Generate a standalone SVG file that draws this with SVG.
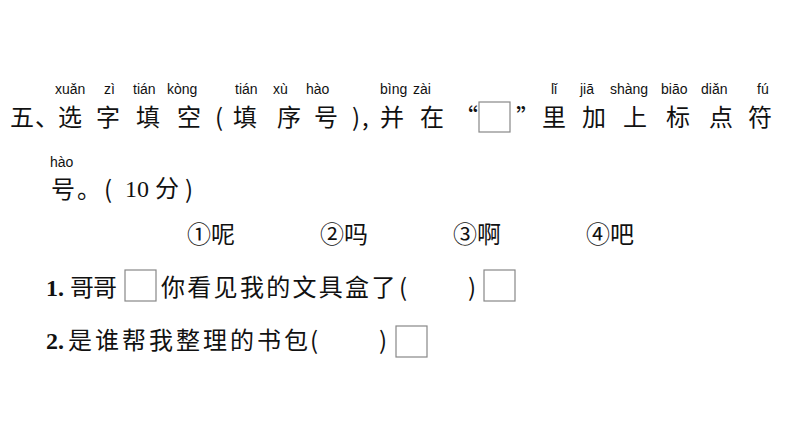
<svg xmlns="http://www.w3.org/2000/svg" width="794" height="447" viewBox="0 0 794 447">
<style>
.c{font-family:"Noto Sans CJK SC","Noto Sans",sans-serif;font-size:24px;fill:#111}
.p{font-family:"Liberation Sans",sans-serif;font-size:14px;fill:#111}
.s{font-family:"Liberation Serif","Noto Sans CJK SC",serif;font-size:24px;fill:#111}
.b{fill:#fff;stroke:#888;stroke-width:1.2}
</style>
<rect width="794" height="447" fill="#fff"/>
<g class="p">
<text x="55" y="94">xuǎn</text><text x="104" y="94">zì</text><text x="133" y="94">tián</text><text x="167" y="94">kòng</text>
<text x="235" y="94">tián</text><text x="273" y="94">xù</text><text x="306" y="94">hào</text>
<text x="380" y="94">bìng</text><text x="413" y="94">zài</text>
<text x="551" y="94">lǐ</text><text x="580" y="94">jiā</text><text x="610" y="94">shàng</text><text x="661" y="94">biāo</text><text x="701" y="94">diǎn</text><text x="757" y="94">fú</text>
<text x="50" y="167">hào</text>
</g>
<g class="c">
<text x="10" y="126">五</text><text x="35" y="126">、</text><text x="58" y="126">选</text><text x="96" y="126">字</text><text x="136" y="126">填</text><text x="177" y="126">空</text>
<text x="215" y="126">(</text><text x="233" y="126">填</text><text x="277" y="126">序</text><text x="314" y="126">号</text><text x="352" y="126">)</text><text x="362" y="126">,</text>
<text x="380" y="126">并</text><text x="420" y="126">在</text><text x="454" y="126">“</text><text x="516" y="126">”</text>
<text x="542" y="126">里</text><text x="582" y="126">加</text><text x="623" y="126">上</text><text x="666" y="126">标</text><text x="709" y="126">点</text><text x="748" y="126">符</text>
<text x="51" y="198">号</text><text x="77" y="198">。</text><text x="104" y="198">(</text><text x="185" y="198">)</text>
</g>
<text class="s" x="125" y="197">10</text><text class="c" x="155" y="197">分</text>
<rect class="b" x="479" y="102" width="31" height="30"/>
<g class="c">
<text x="187" y="243">①呢</text><text x="320" y="243">②吗</text><text x="453" y="243">③啊</text><text x="586" y="243">④吧</text>
<text x="70" y="296" letter-spacing="-1">哥哥</text><text x="161" y="296" letter-spacing="2.3">你看见我的文具盒了</text><text x="399" y="296">(</text><text x="468" y="296">)</text>
<text x="68" y="349" letter-spacing="3">是谁帮我整理的书包</text><text x="310" y="349">(</text><text x="379" y="349">)</text>
</g>
<g class="s" font-weight="bold"><text x="46" y="296">1.</text><text x="46" y="349">2.</text></g>
<rect class="b" x="125" y="270" width="31" height="31"/>
<rect class="b" x="484" y="270" width="31" height="31"/>
<rect class="b" x="396" y="326" width="31" height="31"/>
</svg>
